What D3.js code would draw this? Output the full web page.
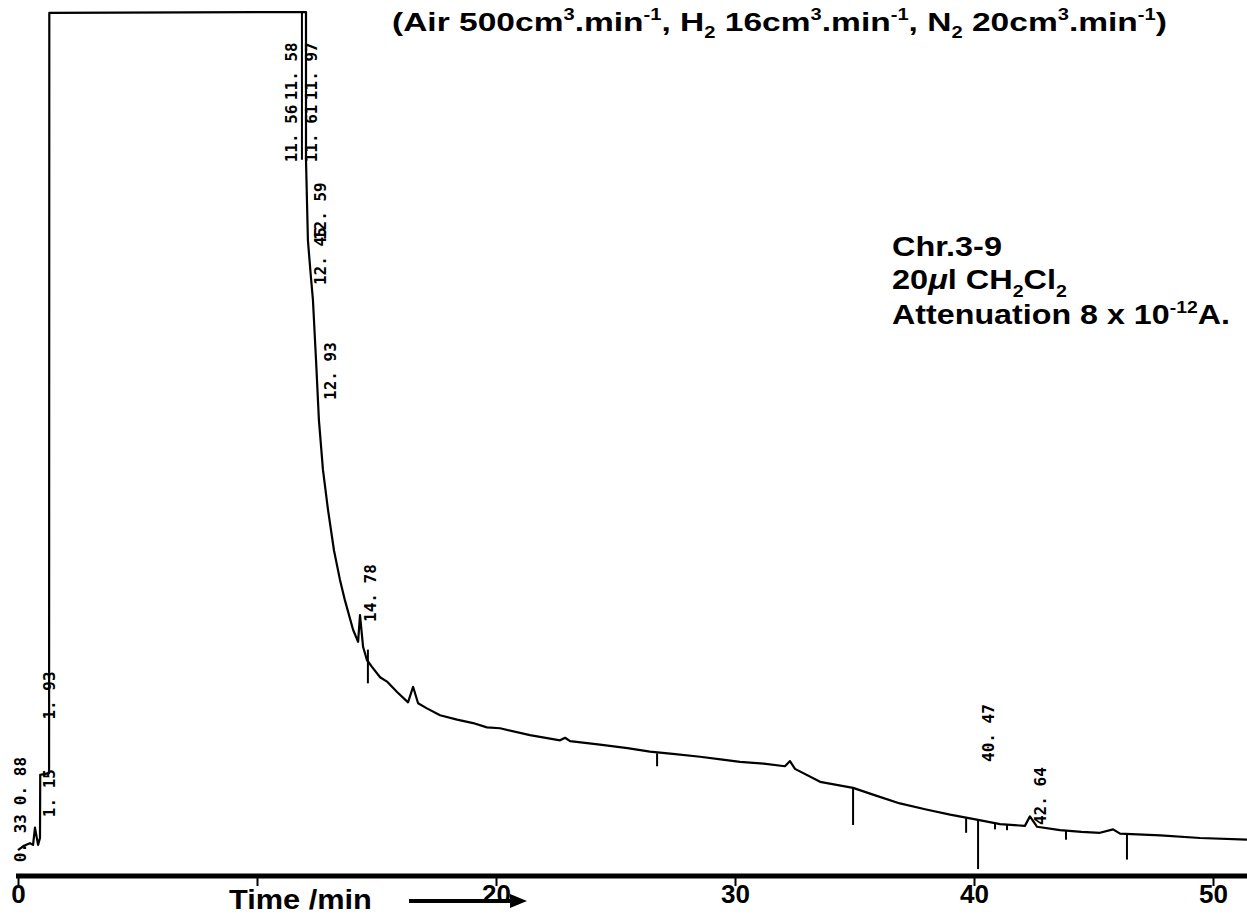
<!DOCTYPE html>
<html><head><meta charset="utf-8">
<script src="https://cdn.jsdelivr.net/npm/d3@7"></script>
<style>body{margin:0;background:#fff;overflow:hidden}svg{display:block}</style>
</head><body>
<script>
// ---- data ----
const traceTime = [0,0.25,0.50,0.63,0.71,0.84,0.92,0.93,1.30,1.31,
  12.05,12.05,12.13,12.25,12.34,12.47,12.59,12.76,12.97,13.22,
  13.47,13.68,14.02,14.23,14.31,14.44,14.60,14.81,15.15,15.44,
  15.86,16.32,16.53,16.74,17.11,17.66,18.37,19.04,19.62,20.17,
  21.42,22.68,22.89,23.10,24.35,25.50,26.44,27.50,28.54,29.40,
  30.21,31.20,32.09,32.30,32.51,33.56,34.94,35.90,36.90,38.00,
  39.00,40.17,41.09,42.13,42.34,42.64,43.60,44.50,45.27,45.82,
  46.11,47.80,49.46,51.42];
const traceSignal = [3.0,3.5,3.8,3.6,5.6,3.6,4.4,11.7,11.9,99.9,
  100.0,82.9,73.6,69.5,66.7,59.7,52.8,47.0,42.4,37.7,
  34.3,31.9,28.5,27.1,30.2,26.5,25.0,24.2,23.0,22.5,
  21.3,20.1,21.9,20.0,19.4,18.6,18.1,17.7,17.2,17.1,
  16.3,15.7,16.0,15.6,15.2,14.8,14.4,14.1,13.8,13.5,
  13.2,13.0,12.7,13.3,12.4,10.9,10.2,9.3,8.4,7.7,
  7.1,6.5,6.0,5.8,6.9,5.7,5.3,5.1,5.0,5.4,
  4.9,4.7,4.4,4.2];

// integration marks (vertical strokes): time, upper and lower signal
const markTime   = [11.88,14.64,26.74,34.94,39.67,40.17,40.88,41.38,43.85,46.40];
const markTop    = [100.0,26.2,14.2,10.2,6.7,6.5,6.2,5.9,5.2,4.9];
const markBottom = [82.9,22.3,12.7,5.9,5.0,0.8,5.4,5.3,4.2,1.9];

// printed retention times
const peakLabels     = ["0. 33","0. 88","1. 15","1. 93","11. 56","11. 58","11. 61","11. 97","12. 45","12. 59","12. 93","14. 78","40. 47","42. 64"];
const peakLabelTime  = [0.10,0.10,1.30,1.30,11.42,11.42,12.26,12.26,12.64,12.64,13.05,14.73,40.59,42.76];
const peakLabelLevel = [1.6,8.2,6.8,18.1,82.6,89.8,82.6,89.8,68.4,73.6,55.1,29.4,13.2,5.9];

const xTicks = [0,10,20,30,40,50];
const xTickLabels = ["0","","20","30","40","50"];

const titleParts = [["(Air 500cm",""],["3","sup"],[".min",""],["-1","sup"],[", H",""],["2","sub"],[" 16cm",""],["3","sup"],[".min",""],["-1","sup"],[", N",""],["2","sub"],[" 20cm",""],["3","sup"],[".min",""],["-1","sup"],[")",""]];
const noteLine1 = [["Chr.3-9",""]];
const noteLine2 = [["20",""],["\u03bc","ital"],["l CH",""],["2","sub"],["Cl",""],["2","sub"]];
const noteLine3 = [["Attenuation 8 x 10",""],["-12","sup"],["A.",""]];
const axisTitle = "Time /min";

// ---- drawing ----
const W = 1247, H = 915;
const x = d3.scaleLinear().domain([0, 50]).range([18, 1213]);
const y = d3.scaleLinear().domain([0, 100]).range([876, 12]);
const svg = d3.select("body").append("svg").attr("width", W).attr("height", H);
svg.append("rect").attr("width", W).attr("height", H).attr("fill", "#fff");

const SANS = "'Liberation Sans', Arial, Helvetica, sans-serif";

function richText(parts, x0, y0, size, target) {
  const t = svg.append("text").attr("x", x0).attr("y", y0)
    .attr("font-family", SANS).attr("font-weight", "bold").attr("font-size", size).attr("fill", "#000");
  let off = 0;
  parts.forEach(([s, k]) => {
    const sp = t.append("tspan").text(s);
    let want = 0;
    if (k === "sup") { want = -0.42 * size; sp.attr("font-size", size * 0.6); }
    else if (k === "sub") { want = 0.28 * size; sp.attr("font-size", size * 0.6); }
    else if (k === "ital") { sp.attr("font-style", "italic"); }
    sp.attr("dy", want - off); off = want;
  });
  if (target) {
    const w = t.node().getComputedTextLength();
    const s = target / w;
    t.attr("transform", `translate(${x0},0) scale(${s},1) translate(${-x0},0)`);
  }
  return t;
}

// axis
const axis = d3.axisBottom(x).tickValues(xTicks).tickSize(10).tickFormat((d, i) => xTickLabels[i]);
const gAxis = svg.append("g").attr("transform", `translate(0,${y(0)})`).call(axis);
gAxis.select(".domain").remove();
gAxis.selectAll(".tick line").attr("stroke", "#000").attr("stroke-width", 2);
gAxis.selectAll(".tick text").attr("fill", "#000").attr("font-family", SANS)
  .attr("font-weight", "bold").attr("font-size", 26).attr("y", 9);
svg.append("line").attr("x1", 16).attr("x2", W).attr("y1", y(0)).attr("y2", y(0))
  .attr("stroke", "#000").attr("stroke-width", 5);

// trace
const pts = traceTime.map((t, i) => [t, traceSignal[i]]);
svg.append("path").datum(pts)
  .attr("d", d3.line().x(d => x(d[0])).y(d => y(d[1])))
  .attr("fill", "none").attr("stroke", "#000").attr("stroke-width", 2.2)
  .attr("stroke-linejoin", "round");

// integration marks
svg.append("g").selectAll("line").data(markTime).join("line")
  .attr("x1", d => x(d)).attr("x2", d => x(d))
  .attr("y1", (d, i) => y(markTop[i])).attr("y2", (d, i) => y(markBottom[i]))
  .attr("stroke", "#000").attr("stroke-width", 2);

// retention time labels
svg.append("g").selectAll("text").data(peakLabels).join("text")
  .attr("transform", (d, i) => `translate(${x(peakLabelTime[i])},${y(peakLabelLevel[i])}) rotate(-90)`)
  .attr("dy", "0.36em")
  .attr("font-family", "'DejaVu Sans Mono', monospace").attr("font-weight", "bold")
  .attr("font-size", 16).attr("fill", "#000").text(d => d);

// title and notes
richText(titleParts, 392, 31, 26, 775);
richText(noteLine1, 892, 256, 27, 110);
richText(noteLine2, 892, 289, 27, 175);
richText(noteLine3, 892, 324, 27, 338);

// axis title and arrow
richText([[axisTitle, ""]], 229, 909, 27, 143);
svg.append("line").attr("x1", 409).attr("x2", 512).attr("y1", 901).attr("y2", 901)
  .attr("stroke", "#000").attr("stroke-width", 4);
svg.append("path").attr("d", "M510,894 L527,901 L510,908 Z").attr("fill", "#000");
</script>
</body></html>
